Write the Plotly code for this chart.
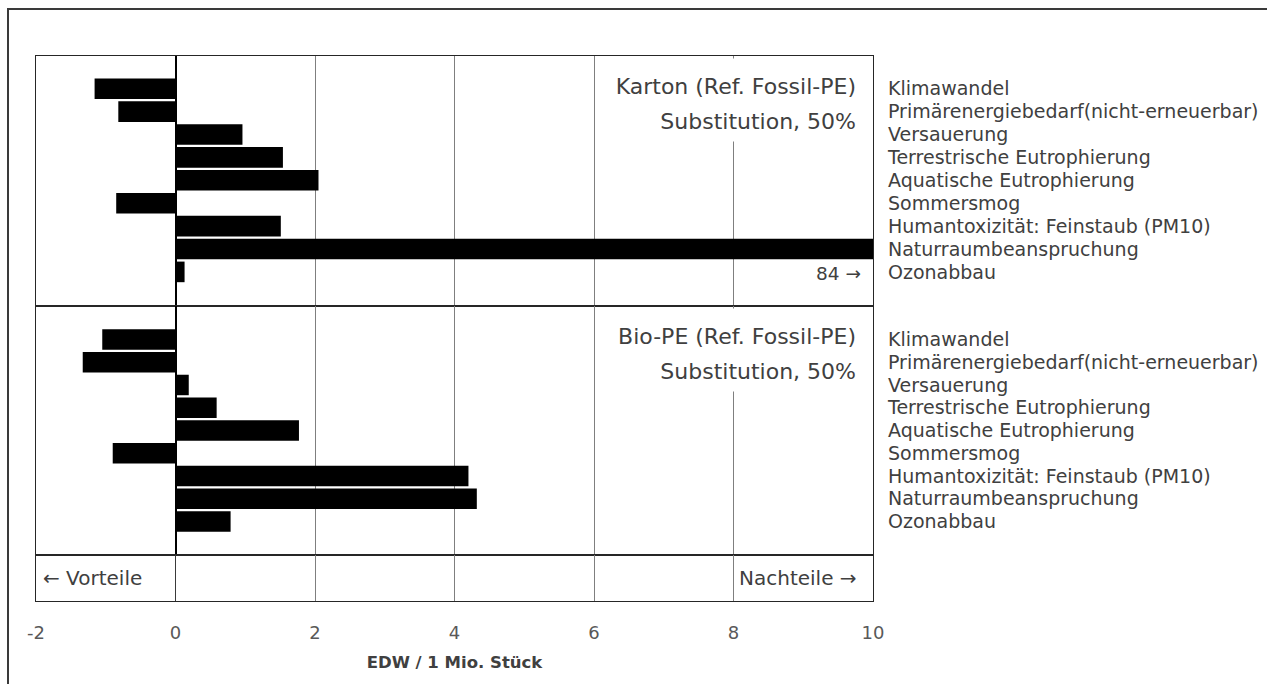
import plotly.graph_objects as go
from plotly.subplots import make_subplots

# Impact categories (same order in both panels)
categories = [
    "Klimawandel",
    "Primärenergiebedarf(nicht-erneuerbar)",
    "Versauerung",
    "Terrestrische Eutrophierung",
    "Aquatische Eutrophierung",
    "Sommersmog",
    "Humantoxizität: Feinstaub (PM10)",
    "Naturraumbeanspruchung",
    "Ozonabbau",
]

# EDW / 1 Mio. Stück, Karton vs. fossil PE
karton = [-1.16, -0.82, 0.96, 1.54, 2.05, -0.85, 1.51, 84, 0.13]
# EDW / 1 Mio. Stück, Bio-PE vs. fossil PE
bio_pe = [-1.05, -1.33, 0.19, 0.59, 1.77, -0.90, 4.20, 4.32, 0.79]

panel_titles = [
    ("Karton (Ref. Fossil-PE)", "Substitution, 50%"),
    ("Bio-PE (Ref. Fossil-PE)", "Substitution, 50%"),
]
x_ticks = [-2, 0, 2, 4, 6, 8, 10]
x_tick_text = ["-2", "0", "2", "4", "6", "8", "10"]
x_range = [-2, 10]

FONT = "DejaVu Sans"
TXT = "#404040"
FRAME = "#262626"

fig = make_subplots(rows=3, cols=1, shared_xaxes=True, vertical_spacing=0,
                    row_heights=[250 / 545, 249 / 545, 46 / 545])

for row, values in ((1, karton), (2, bio_pe)):
    fig.add_trace(go.Bar(
        x=values, y=categories, orientation="h",
        marker=dict(color="#000000", line=dict(width=0)),
        width=0.9, showlegend=False, hoverinfo="x+y",
    ), row=row, col=1)

# empty trace so the bottom strip gets its own axes
fig.add_trace(go.Scatter(x=[x_range[0]], y=[0.5], mode="none",
                         showlegend=False, hoverinfo="skip"), row=3, col=1)

# value label for the bar that runs off the scale
big_idx = karton.index(max(karton))
fig.add_annotation(
    x=x_range[1], y=categories[-1], xref="x", yref="y",
    text=f"{karton[big_idx]:.0f} →", showarrow=False,
    xanchor="right", xshift=-10, yshift=-2,
    font=dict(family=FONT, size=18.5, color=TXT),
)

# panel titles (white boxes keep the grid line clear behind the text)
for yref, (l1, l2) in zip(("y domain", "y2 domain"), panel_titles):
    fig.add_annotation(
        x=x_range[1], y=1, xref="x", yref=yref, text=l1, showarrow=False,
        xanchor="right", yanchor="top", xshift=-16, yshift=-2, height=54,
        width=260, align="right", valign="middle", bgcolor="white",
        borderpad=0, font=dict(family=FONT, size=22, color=TXT),
    )
    fig.add_annotation(
        x=x_range[1], y=1, xref="x", yref=yref, text=l2, showarrow=False,
        xanchor="right", yanchor="top", xshift=-16, yshift=-44, height=40,
        width=260, align="right", valign="middle", bgcolor="white",
        borderpad=0, font=dict(family=FONT, size=22, color=TXT),
    )

# direction hints in the bottom strip
fig.add_annotation(x=x_range[0], y=0.5, xref="x3", yref="y3 domain",
                   text="← Vorteile", showarrow=False, xanchor="left",
                   xshift=5, font=dict(family=FONT, size=20, color=TXT))
fig.add_annotation(x=x_range[1], y=0.5, xref="x3", yref="y3 domain",
                   text="Nachteile →", showarrow=False, xanchor="right",
                   xshift=-14, font=dict(family=FONT, size=20, color=TXT))

axis_common = dict(
    range=x_range, tickmode="array", tickvals=x_ticks, ticktext=x_tick_text,
    showgrid=True, gridcolor="#7f7f7f", gridwidth=1, showline=True,
    mirror=True, linecolor=FRAME, linewidth=1.4, zeroline=True,
    zerolinecolor="#000000", zerolinewidth=2, ticks="", automargin=False,
)
fig.update_xaxes(**axis_common, showticklabels=False)
fig.update_xaxes(zerolinewidth=1, zerolinecolor="#3a3a3a", row=3, col=1)
fig.update_xaxes(
    showticklabels=True, ticklabelstandoff=15,
    tickfont=dict(family=FONT, size=18, color="#595959"),
    title=dict(text="<b>EDW / 1 Mio. Stück</b>", standoff=14,
               font=dict(family=FONT, size=16.5, color=TXT)),
    row=3, col=1,
)

y_common = dict(
    side="right", showgrid=False, zeroline=False, showline=True,
    mirror=True, linecolor=FRAME, linewidth=1.4, ticks="", automargin=False,
    tickmode="array", tickvals=categories, ticktext=categories,
    ticklabelstandoff=10, tickfont=dict(family=FONT, size=19, color=TXT),
    categoryorder="array", categoryarray=categories,
)
fig.update_yaxes(**y_common, range=[9.49, -1.43], row=1, col=1)
fig.update_yaxes(**y_common, range=[9.47, -1.47], row=2, col=1)
fig.update_yaxes(showline=True, mirror=True, linecolor=FRAME, linewidth=1.4,
                 showgrid=False, zeroline=False, showticklabels=False,
                 automargin=False, range=[0, 1], row=3, col=1)

# outer chart frame (left and top edges visible)
fig.add_shape(type="rect", xref="paper", yref="paper",
              x0=(8 - 36) / 837, x1=1.6, y0=-0.3, y1=(601 - 9) / 545,
              line=dict(color="#3a3a3a", width=2), fillcolor="rgba(0,0,0,0)")

fig.update_layout(
    width=1267, height=684,
    margin=dict(l=36, r=394, t=56, b=83, autoexpand=False),
    paper_bgcolor="white", plot_bgcolor="white",
    bargap=0.1, font=dict(family=FONT, color=TXT),
)

fig.write_html("out.html")
